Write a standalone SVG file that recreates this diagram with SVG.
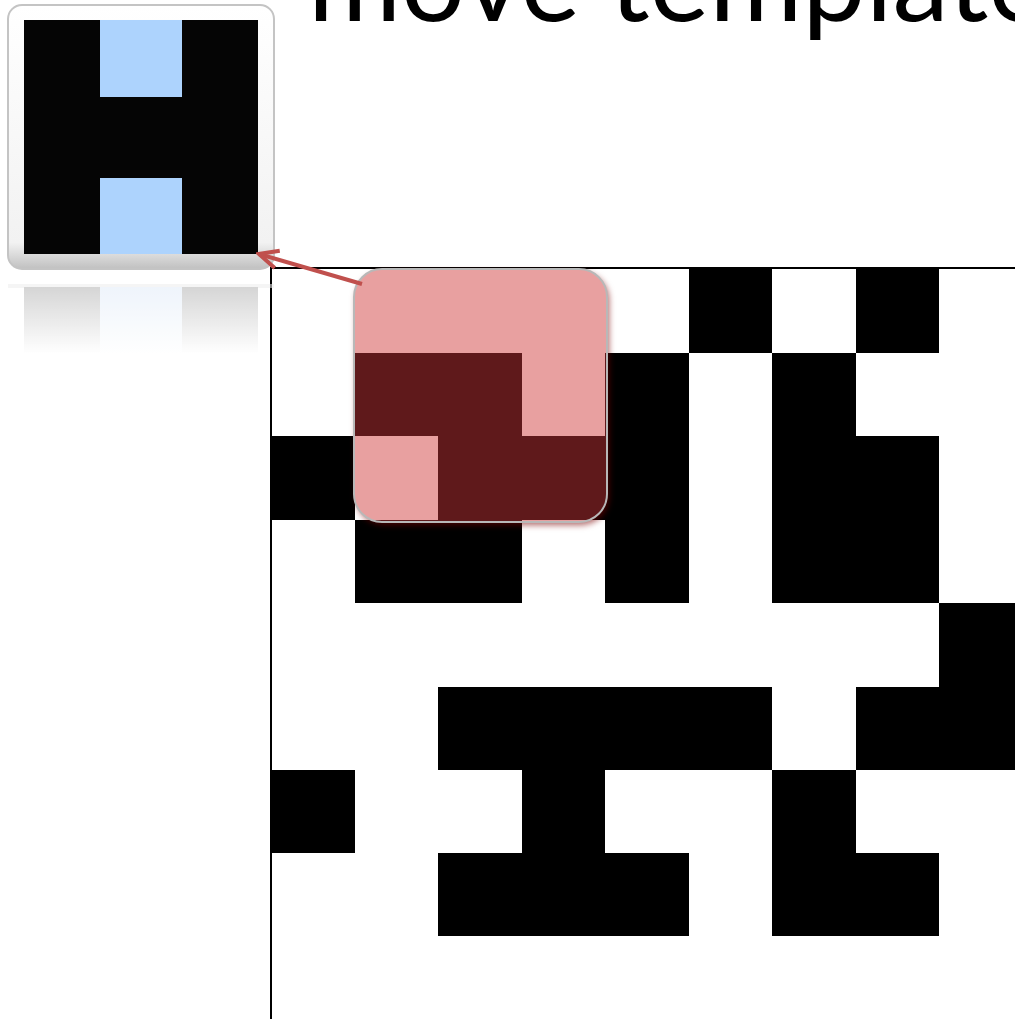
<svg xmlns="http://www.w3.org/2000/svg" width="1015" height="1019" viewBox="0 0 1015 1019">
<style>
.cell{fill:#000}
.axis{stroke:#000;stroke-width:2;fill:none}
.blue{fill:#ADD3FD}
.title{font-family:Lato,"Open Sans","Liberation Sans",sans-serif;font-size:112px;fill:#000}
.conn{stroke:#C0504D;stroke-width:4;fill:none}
</style>
<defs>
<marker id="open" viewBox="0 0 24 24" refX="21" refY="12" markerWidth="24" markerHeight="24" markerUnits="userSpaceOnUse" orient="auto">
<path d="M2,3 L21,12 L2,21" stroke="#C0504D" stroke-width="4" fill="none"/>
</marker>
<linearGradient id="frameG" x1="0" y1="0" x2="0" y2="1">
<stop offset="0" stop-color="#ffffff"/>
<stop offset="0.9" stop-color="#f2f2f2"/>
<stop offset="1" stop-color="#c0c0c0"/>
</linearGradient>
<linearGradient id="reflG" x1="0" y1="0" x2="0" y2="1">
<stop offset="0" stop-color="#b4b4b4"/>
<stop offset="1" stop-color="#ffffff"/>
</linearGradient>
<linearGradient id="reflB" x1="0" y1="0" x2="0" y2="1">
<stop offset="0" stop-color="#e2ecf9"/>
<stop offset="1" stop-color="#ffffff"/>
</linearGradient>
<filter id="shadow" x="-10%" y="-10%" width="125%" height="125%" color-interpolation-filters="sRGB">
<feGaussianBlur in="SourceAlpha" stdDeviation="3"/>
<feOffset dx="2" dy="3" result="b"/>
<feFlood flood-color="#7a0000" flood-opacity="0.6"/>
<feComposite in2="b" operator="in"/>
</filter>
<clipPath id="tplClip">
<rect x="354" y="269" width="253" height="253" rx="28"/>
</clipPath>
</defs>
<rect width="1015" height="1019" fill="#fff"/>

<g id="title">
<text class="title" x="308" y="21" textLength="740" lengthAdjust="spacingAndGlyphs">move template</text>
</g>

<g id="grid">
<rect class="cell" x="689" y="268" width="83" height="85"/>
<rect class="cell" x="856" y="268" width="83" height="85"/>
<rect class="cell" x="355" y="353" width="167" height="83"/>
<rect class="cell" x="605" y="353" width="84" height="250"/>
<rect class="cell" x="772" y="353" width="84" height="250"/>
<rect class="cell" x="271" y="436" width="84" height="84"/>
<rect class="cell" x="438" y="436" width="167" height="84"/>
<rect class="cell" x="772" y="436" width="167" height="167"/>
<rect class="cell" x="355" y="520" width="167" height="83"/>
<rect class="cell" x="939" y="603" width="76" height="84"/>
<rect class="cell" x="438" y="687" width="334" height="83"/>
<rect class="cell" x="856" y="687" width="159" height="83"/>
<rect class="cell" x="271" y="770" width="84" height="83"/>
<rect class="cell" x="522" y="770" width="83" height="83"/>
<rect class="cell" x="772" y="770" width="84" height="83"/>
<rect class="cell" x="438" y="853" width="251" height="83"/>
<rect class="cell" x="772" y="853" width="167" height="83"/>
<path class="axis" d="M271,268 V1019 M270,268 H1015"/>
</g>

<g id="h-template">
<g opacity="0.55">
<rect x="8" y="284" width="266" height="4" fill="#eeeeee"/>
<rect x="24" y="287" width="76" height="66" fill="url(#reflG)"/>
<rect x="100" y="287" width="82" height="66" fill="url(#reflB)"/>
<rect x="182" y="287" width="76" height="66" fill="url(#reflG)"/>
</g>
<rect x="8" y="5" width="266" height="264" rx="14" fill="url(#frameG)" stroke="#c4c4c4" stroke-width="2"/>
<rect x="24" y="20" width="234" height="234" fill="#050505"/>
<rect class="blue" x="100" y="20" width="82" height="77"/>
<rect class="blue" x="100" y="178" width="82" height="76"/>
</g>

<g id="moving-template">
<rect x="354" y="269" width="253" height="253" rx="28" fill="#000" filter="url(#shadow)"/>
<g clip-path="url(#tplClip)">
<rect x="354" y="269" width="253" height="253" fill="#E8A0A0"/>
<path d="M355,353 H522 V436 H608 V520 H522 V523 H355 V520 H438 V436 H355 Z" fill="#5F191B"/>
<rect x="605" y="353" width="3" height="167" fill="#5F191B"/>
</g>
<rect x="354" y="269" width="253" height="253" rx="28" fill="none" stroke="#b8b8b8" stroke-width="2"/>
</g>

<g id="connectors">
<line class="conn" x1="362" y1="284" x2="259" y2="254" marker-end="url(#open)"/>
</g>
</svg>
